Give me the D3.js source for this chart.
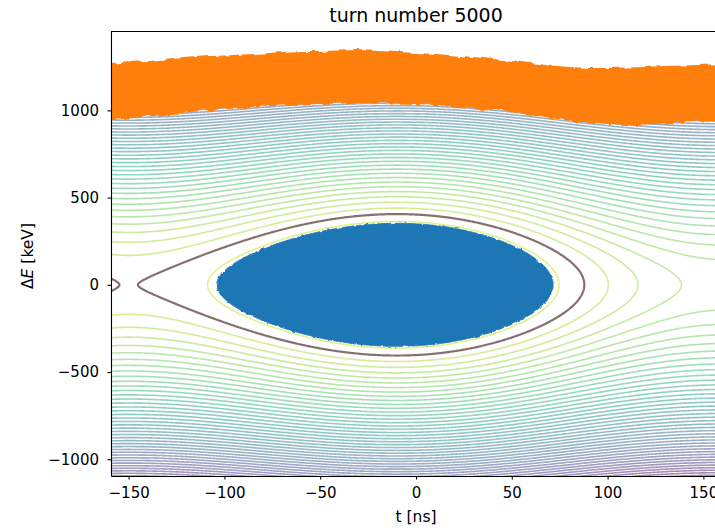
<!DOCTYPE html>
<html>
<head>
<meta charset="utf-8">
<script src="https://cdn.jsdelivr.net/npm/d3@7"></script>
<style>
  body { margin: 0; background: #fff; }
  svg { display: block; }
  text { font-family: "DejaVu Sans", sans-serif; fill: #000; }
</style>
</head>
<body>
<svg id="chart" width="715" height="530"></svg>
<script>
// ---- RF bucket model: H(t, dE) = k * dE^2 + U(t) ----
const phiS = 0.15;          // synchronous phase [rad]
const omegaRF = 0.0203;     // RF angular frequency [rad/ns]
const tSync = -10;          // synchronous particle position [ns]
const kinCoef = 9.42e-6;    // kinetic coefficient [1/keV^2]
const separatrixLevel = 0.537;
const bunchLevel = 0.16;

// Hamiltonian levels drawn as iso-lines
const contourLevels = [-0.93, -0.64, -0.35, -0.06, 0.23, 0.81, 1.10, 1.39, 1.68, 1.97,
  2.26, 2.55, 2.84, 3.13, 3.42, 3.71, 4.00, 4.29, 4.58, 4.87, 5.16, 5.45, 5.74, 6.03,
  6.32, 6.61, 6.90, 7.19, 7.48, 7.77, 8.06, 8.35, 8.64, 8.93, 9.22, 9.51, 9.80, 10.09,
  10.38, 10.67, 10.96, 11.25, 11.54, 11.83, 12.12, 12.41, 12.70, 12.99, 13.28];

// Unbunched beam above the bucket: time [ns], upper and lower energy edge [keV]
const beamT = [-160, -150, -140, -130, -120, -110, -100, -90, -80, -70, -60, -50, -40,
  -30, -20, -10, 0, 10, 20, 30, 40, 50, 60, 70, 80, 90, 100, 110, 120, 130, 140, 150, 160];
const beamTop = [1264, 1278, 1283, 1292, 1301, 1310, 1315, 1321, 1326, 1335, 1341, 1341,
  1343, 1346, 1341, 1335, 1329, 1323, 1315, 1306, 1295, 1283, 1272, 1257, 1249, 1243,
  1243, 1246, 1249, 1255, 1257, 1261, 1266];
const beamBottom = [942, 954, 965, 976, 988, 999, 1008, 1011, 1022, 1028, 1034, 1037,
  1040, 1042, 1042, 1040, 1037, 1031, 1022, 1014, 1002, 988, 974, 956, 942, 931, 922,
  916, 919, 925, 931, 936, 939];

// Axis ticks
const xTicks = [-150, -100, -50, 0, 50, 100, 150];
const yTicks = [-1000, -500, 0, 500, 1000];

const titleText = "turn number 5000";

function potential(t) {
  const phi = phiS - omegaRF * (t - tSync);
  return -Math.cos(phi) - phi * Math.sin(phiS);
}
function hamiltonian(t, dE) {
  return kinCoef * dE * dE + potential(t);
}

// ---- layout ----
const plotL = 111, plotR = 721, plotT = 31, plotB = 476;
const x = d3.scaleLinear().domain([-159.2, 159.2]).range([plotL, plotR]);
const y = d3.scaleLinear().domain([-1096, 1455]).range([plotB, plotT]);

const svg = d3.select("#chart");
const defs = svg.append("defs");
defs.append("clipPath").attr("id", "plot-clip")
  .append("rect").attr("x", plotL).attr("y", plotT)
  .attr("width", plotR - plotL).attr("height", plotB - plotT);

// rough particle edge
function raggedFilter(id, freq, scale, seed) {
  const f = defs.append("filter").attr("id", id)
    .attr("x", "-5%").attr("y", "-20%").attr("width", "110%").attr("height", "140%");
  f.append("feTurbulence").attr("type", "fractalNoise").attr("baseFrequency", freq)
    .attr("numOctaves", 2).attr("seed", seed).attr("result", "noise");
  f.append("feDisplacementMap").attr("in", "SourceGraphic").attr("in2", "noise")
    .attr("scale", scale).attr("xChannelSelector", "R").attr("yChannelSelector", "G");
}
raggedFilter("ragged-beam", "0.09 0.03", 6, 4);
raggedFilter("ragged-bunch", "0.2 0.2", 3, 7);

// ---- sample the Hamiltonian on a pixel grid ----
const gx0 = 100, gy0 = 20, gw = 632, gh = 470, step = 1;
const values = new Float64Array(gw * gh);
const negValues = new Float64Array(gw * gh);
for (let j = 0; j < gh; j++) {
  const e = y.invert(gy0 + (j + 0.5) * step);
  for (let i = 0; i < gw; i++) {
    const t = x.invert(gx0 + (i + 0.5) * step);
    const h = hamiltonian(t, e);
    values[j * gw + i] = h;
    negValues[j * gw + i] = -h;
  }
}
const gridPath = d3.geoPath(d3.geoIdentity().scale(step).translate([gx0, gy0]));

const plot = svg.append("g").attr("clip-path", "url(#plot-clip)");

// iso-lines, reversed viridis
const [cMin, cMax] = d3.extent(contourLevels);
const lineColor = h => d3.interpolateViridis(1 - (h - cMin) / (cMax - cMin));
const iso = d3.contours().size([gw, gh]).thresholds(contourLevels)(values);
plot.append("g").selectAll("path").data(iso).join("path")
  .attr("d", gridPath)
  .attr("fill", "none")
  .attr("stroke", d => lineColor(d.value))
  .attr("stroke-opacity", 0.5)
  .attr("stroke-width", 1.6);

// separatrix
const sep = d3.contours().size([gw, gh]).contour(values, separatrixLevel);
plot.append("path").attr("d", gridPath(sep))
  .attr("fill", "none").attr("stroke", "#877170").attr("stroke-width", 2.2);

// bunched particles inside the bucket
const bunch = d3.contours().size([gw, gh]).contour(negValues, -bunchLevel);
plot.append("path").attr("d", gridPath(bunch))
  .attr("fill", "#1f77b4").attr("stroke", "#1f77b4").attr("stroke-width", 1)
  .attr("filter", "url(#ragged-bunch)");

// unbunched beam
const beam = beamT.map((t, i) => ({ t, top: beamTop[i], bottom: beamBottom[i] }));
plot.append("path").datum(beam)
  .attr("d", d3.area().x(d => x(d.t)).y0(d => y(d.bottom)).y1(d => y(d.top)))
  .attr("fill", "#ff7f0e")
  .attr("filter", "url(#ragged-beam)");

// ---- axes ----
const tickFont = 15;
const fmt = d3.format("d");
const gx = svg.append("g").attr("transform", `translate(0,${plotB})`)
  .call(d3.axisBottom(x).tickValues(xTicks).tickFormat(fmt)
    .tickSize(3.5).tickSizeOuter(0).tickPadding(8));
const gy = svg.append("g").attr("transform", `translate(${plotL},0)`)
  .call(d3.axisLeft(y).tickValues(yTicks).tickFormat(fmt)
    .tickSize(3.5).tickSizeOuter(0).tickPadding(8.5));
[gx, gy].forEach(g => {
  g.attr("font-size", tickFont).attr("font-family", "DejaVu Sans");
  g.selectAll("path.domain").attr("stroke", "#000").attr("stroke-width", 1.1);
  g.selectAll(".tick line").attr("stroke", "#000").attr("stroke-width", 1.1);
  g.selectAll(".tick text").attr("fill", "#000");
});
svg.append("line").attr("x1", plotL).attr("x2", plotR).attr("y1", plotT + 0.5).attr("y2", plotT + 0.5)
  .attr("stroke", "#000").attr("stroke-width", 1.1);

// labels
svg.append("text").attr("x", (plotL + plotR) / 2).attr("y", 521.5)
  .attr("text-anchor", "middle").attr("font-size", 15.5).text("t [ns]");

const yl = svg.append("text")
  .attr("transform", `translate(33,256) rotate(-90)`)
  .attr("text-anchor", "middle").attr("font-size", 15.5);
yl.append("tspan").text("Δ");
yl.append("tspan").attr("font-style", "italic").text("E");
yl.append("tspan").text(" [keV]");

svg.append("text").attr("x", (plotL + plotR) / 2).attr("y", 22)
  .attr("text-anchor", "middle").attr("font-size", 19).text(titleText);
</script>
</body>
</html>
